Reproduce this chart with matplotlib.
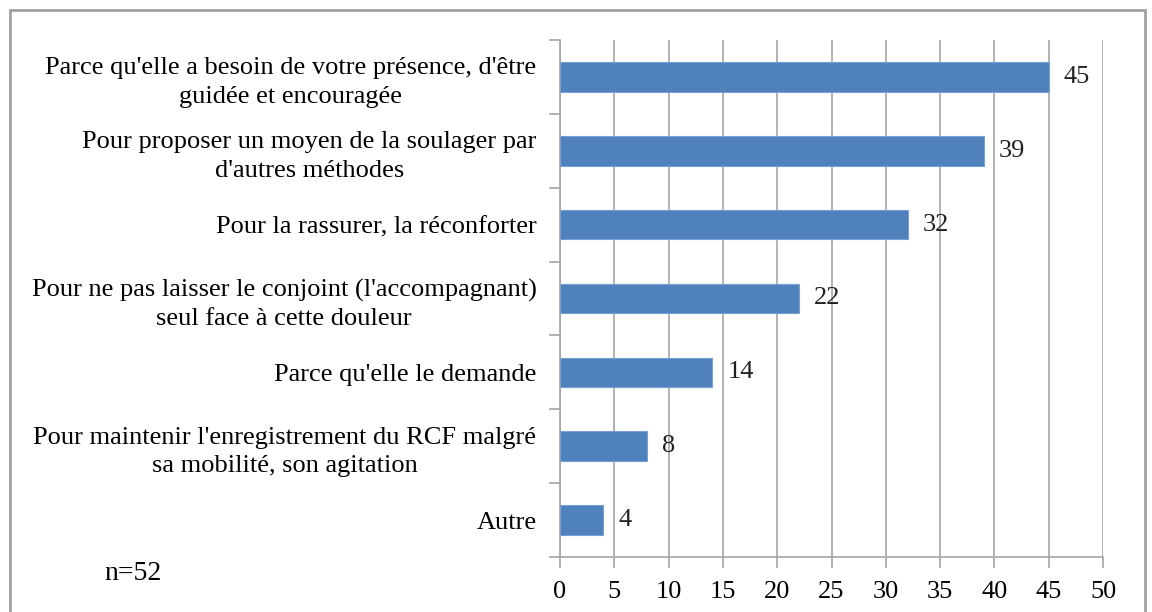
import matplotlib.pyplot as plt
from matplotlib.patches import Rectangle

plt.rcParams['font.family'] = ['Liberation Serif', 'DejaVu Serif']

labels = [
    "Parce qu'elle a besoin de votre présence, d'être\nguidée et encouragée",
    "Pour proposer un moyen de la soulager par\nd'autres méthodes",
    "Pour la rassurer, la réconforter",
    "Pour ne pas laisser le conjoint (l'accompagnant)\nseul face à cette douleur",
    "Parce qu'elle le demande",
    "Pour maintenir l'enregistrement du RCF malgré\nsa mobilité, son agitation",
    "Autre",
]
values = [45, 39, 32, 22, 14, 8, 4]
xticks = [0, 5, 10, 15, 20, 25, 30, 35, 40, 45, 50]

W, H = 1152, 612
fig = plt.figure(figsize=(W / 100, H / 100), dpi=100)
ax = fig.add_axes([560 / W, 1 - 557 / H, (1103 - 560) / W, (557 - 40) / H])

grid_col = '#a6a6a6'
pos = list(range(len(values)))[::-1]
ax.barh(pos, values, height=0.4, color='#4f81bd', edgecolor='#7aa0d0', linewidth=0.8, zorder=3)

for p, v in zip(pos, values):
    ax.text(v + 1.4, p, str(v), va='center', ha='left', fontsize=19, color='#222222', zorder=4)

ax.set_xlim(0, 50)
ax.set_ylim(-0.5, len(values) - 0.5)
ax.set_xticks(xticks)
ax.set_xticklabels([str(t) for t in xticks], fontsize=19)
ax.xaxis.grid(True, color=grid_col, linewidth=1.2, zorder=0)
ax.set_axisbelow(True)

ax.set_yticks([p - 0.5 for p in range(len(values) + 1)], minor=False)
ax.set_yticklabels([])
ax.set_yticks(pos, minor=True)
ax.set_yticklabels(labels, minor=True, fontsize=19, ha='right',
                   multialignment='center', linespacing=1.37)
ax.tick_params(axis='y', which='minor', length=0, pad=17)
ax.tick_params(axis='y', which='major', length=8, color=grid_col, width=1.2)
ax.tick_params(axis='x', length=8, color=grid_col, width=1.2, pad=9)

for s in ['top', 'right']:
    ax.spines[s].set_visible(False)
for s in ['left', 'bottom']:
    ax.spines[s].set_color(grid_col)
    ax.spines[s].set_linewidth(1.2)

fig.text(104 / W, 1 - 573 / H, 'n=52', fontsize=20, va='center', ha='left')

fig.patches.append(Rectangle((10 / W, -0.05), (1145 - 10) / W, 1 - 10 / H + 0.05,
                             transform=fig.transFigure, fill=False,
                             edgecolor='#a0a0a0', linewidth=2))

fig.savefig('out.png', dpi=100)
